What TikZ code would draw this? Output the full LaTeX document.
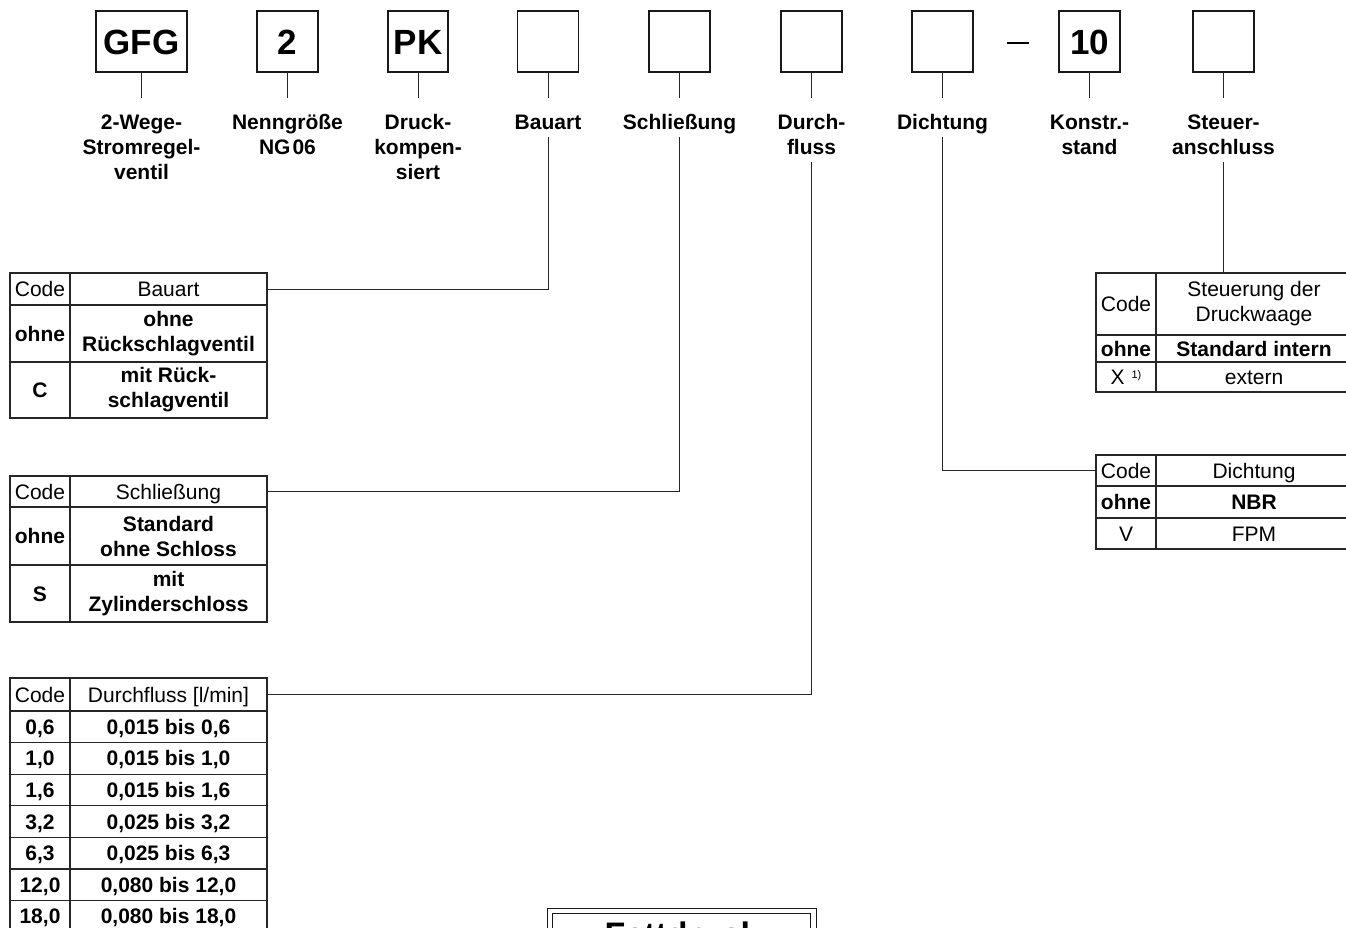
\documentclass[tikz,border=0pt]{standalone}
\usepackage{fontspec}
\setmainfont{Liberation Sans}
\newcommand{\lblfont}{\fontsize{21pt}{25pt}\selectfont\bfseries}
\newcommand{\cellfont}{\fontsize{21pt}{25pt}\selectfont}
\newcommand{\boxfont}{\fontsize{35pt}{38pt}\selectfont\bfseries}
\newcommand{\mlab}[1]{\begin{tabular}[t]{@{}c@{}}#1\end{tabular}}
\begin{document}
\begin{tikzpicture}[x=1pt,y=-1pt,
  topbox/.style={draw=black!90, line width=1.4pt, minimum width=61pt, minimum height=61pt, inner sep=0pt, outer sep=0pt, font=\boxfont, text height=25pt, text depth=0pt},
  lbl/.style={inner sep=0pt, outer sep=0pt, anchor=base, font=\lblfont},
  conn/.style={draw=black!85, line width=1pt},
  cell/.style={draw=black!85, line width=1.1pt, inner sep=0pt, outer sep=0pt, align=center, font=\cellfont},
  cellb/.style={cell, font=\cellfont\bfseries},
  one/.style={text height=15.3pt, text depth=0.3pt},
  cw/.style={minimum width=60pt},
  dw/.style={minimum width=197pt},
  rw/.style={minimum width=196pt},
  fettbox/.style={draw=black!90, double, double distance=4.5pt, line width=1.1pt, minimum width=263.5pt, minimum height=80pt, inner sep=0pt},
  dashbar/.style={fill=black, minimum width=22pt, minimum height=2pt, inner sep=0pt}
]
\useasboundingbox (0,0) rectangle (1346,927);
\clip (0,0) rectangle (1346,927);

% top code boxes
\node[topbox, minimum width=91pt] (bGFG) at (141.5,41.5) {GFG};
\node[topbox] (bNG)  at (287.5,41.5) {2};
\node[topbox, minimum width=60pt] (bPK) at (418,41.5) {PK};
\node[topbox] (bBau) at (548,41.5) {};
\node[topbox] (bSch) at (679.5,41.5) {};
\node[topbox] (bDur) at (811.5,41.5) {};
\node[topbox] (bDic) at (942.5,41.5) {};
\node[dashbar] (dash) at (1018,42.5) {};
\node[topbox] (bKon) at (1089.5,41.5) {10};
\node[topbox] (bSte) at (1223.5,41.5) {};

% labels
\node[lbl] (lGFG) at (141.5,129.5) {\mlab{2-Wege-\\Stromregel-\\ventil}};
\node[lbl] (lNG)  at (287.5,129.5) {\mlab{Nenngröße\\NG\kern2pt06}};
\node[lbl] (lPK)  at (418,129.5)   {\mlab{Druck-\\kompen-\\siert}};
\node[lbl] (lBau) at (548,129.5)   {\mlab{Bauart}};
\node[lbl] (lSch) at (679.5,129.5) {\mlab{Schließung}};
\node[lbl] (lDur) at (811.5,129.5) {\mlab{Durch-\\fluss}};
\node[lbl] (lDic) at (942.5,129.5) {\mlab{Dichtung}};
\node[lbl] (lKon) at (1089.5,129.5) {\mlab{Konstr.-\\stand}};
\node[lbl] (lSte) at (1223.5,129.5) {\mlab{Steuer-\\anschluss}};

\foreach \a/\b in {bGFG/lGFG,bNG/lNG,bPK/lPK,bBau/lBau,bSch/lSch,bDur/lDur,bDic/lDic,bKon/lKon,bSte/lSte}
  \draw[conn, shorten >=14pt] (\a.south) -- (\b.north);

% Bauart table
\node[cell, one, cw, minimum height=32pt] (bauH1) at (40,289) {Code};
\node[cell, one, dw, minimum height=32pt] (bauH2) at (168.5,289) {Bauart};
\node[cellb, one, cw, minimum height=57pt] (bauA1) at (40,333.5) {ohne};
\node[cellb, dw, minimum height=57pt] (bauA2) at (168.5,333.5) {ohne\\Rückschlagventil};
\node[cellb, one, cw, minimum height=56pt] (bauB1) at (40,390) {C};
\node[cellb, dw, minimum height=56pt] (bauB2) at (168.5,390) {mit Rück-\\schlagventil};

% Schliessung table
\node[cell, one, cw, minimum height=31pt] (schH1) at (40,491.5) {Code};
\node[cell, one, dw, minimum height=31pt] (schH2) at (168.5,491.5) {Schließung};
\node[cellb, one, cw, minimum height=58pt] (schA1) at (40,536) {ohne};
\node[cellb, dw, minimum height=58pt] (schA2) at (168.5,536) {Standard\\ohne Schloss};
\node[cellb, one, cw, minimum height=57pt] (schB1) at (40,593.5) {S};
\node[cellb, dw, minimum height=57pt] (schB2) at (168.5,593.5) {mit\\Zylinderschloss};

% Durchfluss table
\node[cell, one, cw, minimum height=33pt] (durH1) at (40,694.5) {Code};
\node[cell, one, dw, minimum height=33pt] (durH2) at (168.5,694.5) {Durchfluss [l/min]};
\node[cellb, one, cw, minimum height=31.6pt] (durA1) at (40,726.8) {0,6};
\node[cellb, one, dw, minimum height=31.6pt] (durA2) at (168.5,726.8) {0,015 bis 0,6};
\node[cellb, one, cw, minimum height=31.6pt] (durB1) at (40,758.4) {1,0};
\node[cellb, one, dw, minimum height=31.6pt] (durB2) at (168.5,758.4) {0,015 bis 1,0};
\node[cellb, one, cw, minimum height=31.6pt] (durC1) at (40,790) {1,6};
\node[cellb, one, dw, minimum height=31.6pt] (durC2) at (168.5,790) {0,015 bis 1,6};
\node[cellb, one, cw, minimum height=31.6pt] (durD1) at (40,821.6) {3,2};
\node[cellb, one, dw, minimum height=31.6pt] (durD2) at (168.5,821.6) {0,025 bis 3,2};
\node[cellb, one, cw, minimum height=31.6pt] (durE1) at (40,853.2) {6,3};
\node[cellb, one, dw, minimum height=31.6pt] (durE2) at (168.5,853.2) {0,025 bis 6,3};
\node[cellb, one, cw, minimum height=31.6pt] (durF1) at (40,884.8) {12,0};
\node[cellb, one, dw, minimum height=31.6pt] (durF2) at (168.5,884.8) {0,080 bis 12,0};
\node[cellb, one, cw, minimum height=31.6pt] (durG1) at (40,916.4) {18,0};
\node[cellb, one, dw, minimum height=31.6pt] (durG2) at (168.5,916.4) {0,080 bis 18,0};

% Steueranschluss table
\node[cell, one, cw, minimum height=62pt] (steH1) at (1126,304) {Code};
\node[cell, rw, minimum height=62pt] (steH2) at (1254,304) {Steuerung der\\Druckwaage};
\node[cellb, one, cw, minimum height=27pt] (steA1) at (1126,348.5) {ohne};
\node[cellb, one, rw, minimum height=27pt] (steA2) at (1254,348.5) {Standard intern};
\node[cell, one, cw, minimum height=30pt] (steB1) at (1126,377) {X\kern7pt\raisebox{6pt}{\fontsize{11pt}{12pt}\selectfont 1)}};
\node[cell, one, rw, minimum height=30pt] (steB2) at (1254,377) {extern};

% Dichtung table
\node[cell, one, cw, minimum height=31pt] (dicH1) at (1126,470.5) {Code};
\node[cell, one, rw, minimum height=31pt] (dicH2) at (1254,470.5) {Dichtung};
\node[cellb, one, cw, minimum height=32pt] (dicA1) at (1126,502) {ohne};
\node[cellb, one, rw, minimum height=32pt] (dicA2) at (1254,502) {NBR};
\node[cell, one, cw, minimum height=31pt] (dicB1) at (1126,533.5) {V};
\node[cell, one, rw, minimum height=31pt] (dicB2) at (1254,533.5) {FPM};

% connectors from labels to tables
\draw[conn] (lBau.south) |- (bauH2.east);
\draw[conn] (lSch.south) |- (schH2.east);
\draw[conn] (lDur.south) |- (durH2.east);
\draw[conn] (lDic.south) |- (dicH1.west);
\draw[conn] (lSte.south) -- (lSte.south |- steH2.north);

% bottom box (cut off at the lower edge, as in the reference)
\node[fettbox] (fett) at (681.75,951) {};
\node[anchor=base, inner sep=0pt, font=\fontsize{34pt}{38pt}\selectfont\bfseries] (fetttext) at (682,946) {Fettdruck};
\end{tikzpicture}
\end{document}
